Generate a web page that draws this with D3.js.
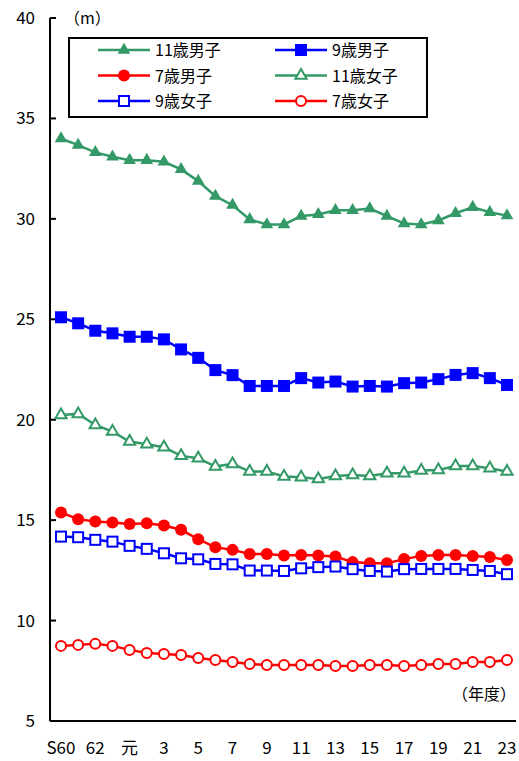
<!DOCTYPE html>
<html><head><meta charset="utf-8">
<script src="https://cdn.jsdelivr.net/npm/d3@7"></script>
<style>body{margin:0;background:#fff}text{font-family:"Noto Sans CJK JP","Liberation Sans",sans-serif}</style>
</head><body><svg id="c" width="519" height="761"></svg>
<script>
const years=["S60","61","62","63","元","2","3","4","5","6","7","8","9","10","11","12","13","14","15","16","17","18","19","20","21","22","23"];
const shownLabels=["S60","62","元","3","5","7","9","11","13","15","17","19","21","23"];
const yTicks=[5,10,15,20,25,30,35,40];
const boys11=[34.0,33.67,33.31,33.09,32.92,32.92,32.84,32.46,31.88,31.13,30.68,29.97,29.72,29.72,30.14,30.22,30.43,30.43,30.51,30.14,29.77,29.72,29.92,30.28,30.58,30.33,30.16];
const boys9=[25.1,24.8,24.43,24.3,24.13,24.13,24.0,23.5,23.08,22.47,22.22,21.68,21.68,21.68,22.07,21.85,21.9,21.65,21.68,21.65,21.82,21.85,22.02,22.23,22.32,22.07,21.73];
const boys7=[15.38,15.05,14.93,14.88,14.81,14.85,14.73,14.52,14.05,13.65,13.52,13.32,13.32,13.24,13.27,13.24,13.19,12.91,12.86,12.86,13.06,13.22,13.27,13.27,13.22,13.16,13.02];
const girls11=[20.24,20.29,19.74,19.41,18.91,18.78,18.63,18.2,18.08,17.67,17.8,17.42,17.42,17.17,17.14,17.05,17.2,17.25,17.2,17.34,17.34,17.47,17.5,17.7,17.7,17.58,17.42];
const girls9=[14.18,14.15,14.02,13.93,13.72,13.57,13.35,13.1,13.05,12.82,12.8,12.49,12.49,12.47,12.6,12.66,12.69,12.56,12.47,12.44,12.56,12.57,12.57,12.57,12.52,12.47,12.31];
const girls7=[8.74,8.79,8.84,8.74,8.54,8.39,8.34,8.29,8.14,8.04,7.94,7.84,7.79,7.79,7.79,7.79,7.74,7.74,7.79,7.79,7.74,7.79,7.84,7.84,7.94,7.94,8.04];
const series=[
 {name:"11歳男子",data:boys11,color:"#339966",shape:"tri",fill:true},
 {name:"9歳男子",data:boys9,color:"#0000ff",shape:"sq",fill:true},
 {name:"7歳男子",data:boys7,color:"#ff0000",shape:"circ",fill:true},
 {name:"11歳女子",data:girls11,color:"#339966",shape:"tri",fill:false},
 {name:"9歳女子",data:girls9,color:"#0000ff",shape:"sq",fill:false},
 {name:"7歳女子",data:girls7,color:"#ff0000",shape:"circ",fill:false}];
const svg=d3.select("#c");
const x=d3.scalePoint().domain(years).range([61,507]);
const y=d3.scaleLinear().domain([5,40]).range([721,18]);
const ax=svg.append("g");
ax.append("line").attr("x1",50).attr("x2",50).attr("y1",18).attr("y2",721).attr("stroke","#000").attr("stroke-width",2);
ax.append("line").attr("x1",50).attr("x2",516).attr("y1",721).attr("y2",721).attr("stroke","#000").attr("stroke-width",2);
yTicks.forEach(t=>{
 ax.append("line").attr("x1",50).attr("x2",56).attr("y1",y(t)).attr("y2",y(t)).attr("stroke","#000").attr("stroke-width",2);
 ax.append("text").attr("x",35).attr("y",y(t)+6).attr("text-anchor","end").attr("font-size",17).text(t);
});
shownLabels.forEach(l=>{
 ax.append("text").attr("x",x(l)).attr("y",754).attr("text-anchor","middle").attr("font-size",17).text(l);
});
svg.append("text").attr("x",64).attr("y",24).attr("font-size",16).text("（m）");
svg.append("text").attr("x",452).attr("y",700).attr("font-size",16).text("（年度）");
function sym(g,s,cx,cy){
 const f=s.fill?s.color:"#fff";
 let e;
 if(s.shape==="tri") e=g.append("path").attr("d",d3.symbol(d3.symbolTriangle,s.fill?70:55)()).attr("transform",`translate(${cx},${cy})`);
 else if(s.shape==="sq") e=g.append("rect").attr("x",cx-(s.fill?6:5)).attr("y",cy-(s.fill?6:5)).attr("width",s.fill?12:10).attr("height",s.fill?12:10);
 else e=g.append("circle").attr("cx",cx).attr("cy",cy).attr("r",s.fill?6:5);
 e.attr("fill",f).attr("stroke",s.color).attr("stroke-width",s.fill?0:2);
}
const line=d3.line().x((d,i)=>x(years[i])).y(d=>y(d));
series.forEach(s=>{
 const g=svg.append("g");
 g.append("path").attr("d",line(s.data)).attr("fill","none").attr("stroke",s.color).attr("stroke-width",2.5);
 s.data.forEach((v,i)=>sym(g,s,x(years[i]),y(v)));
});
const lg=svg.append("g");
lg.append("rect").attr("x",69).attr("y",38).attr("width",358).attr("height",79).attr("fill","#fff").attr("stroke","#000").attr("stroke-width",2);
series.forEach((s,i)=>{
 const col=i%2,row=Math.floor(i/2);
 const lx=col?275:98,ly=50+row*25.5;
 lg.append("line").attr("x1",lx).attr("x2",lx+52).attr("y1",ly).attr("y2",ly).attr("stroke",s.color).attr("stroke-width",2.5);
 sym(lg,s,lx+26,ly);
 lg.append("text").attr("x",lx+57).attr("y",ly+6).attr("font-size",16).text(s.name);
});
</script></body></html>
